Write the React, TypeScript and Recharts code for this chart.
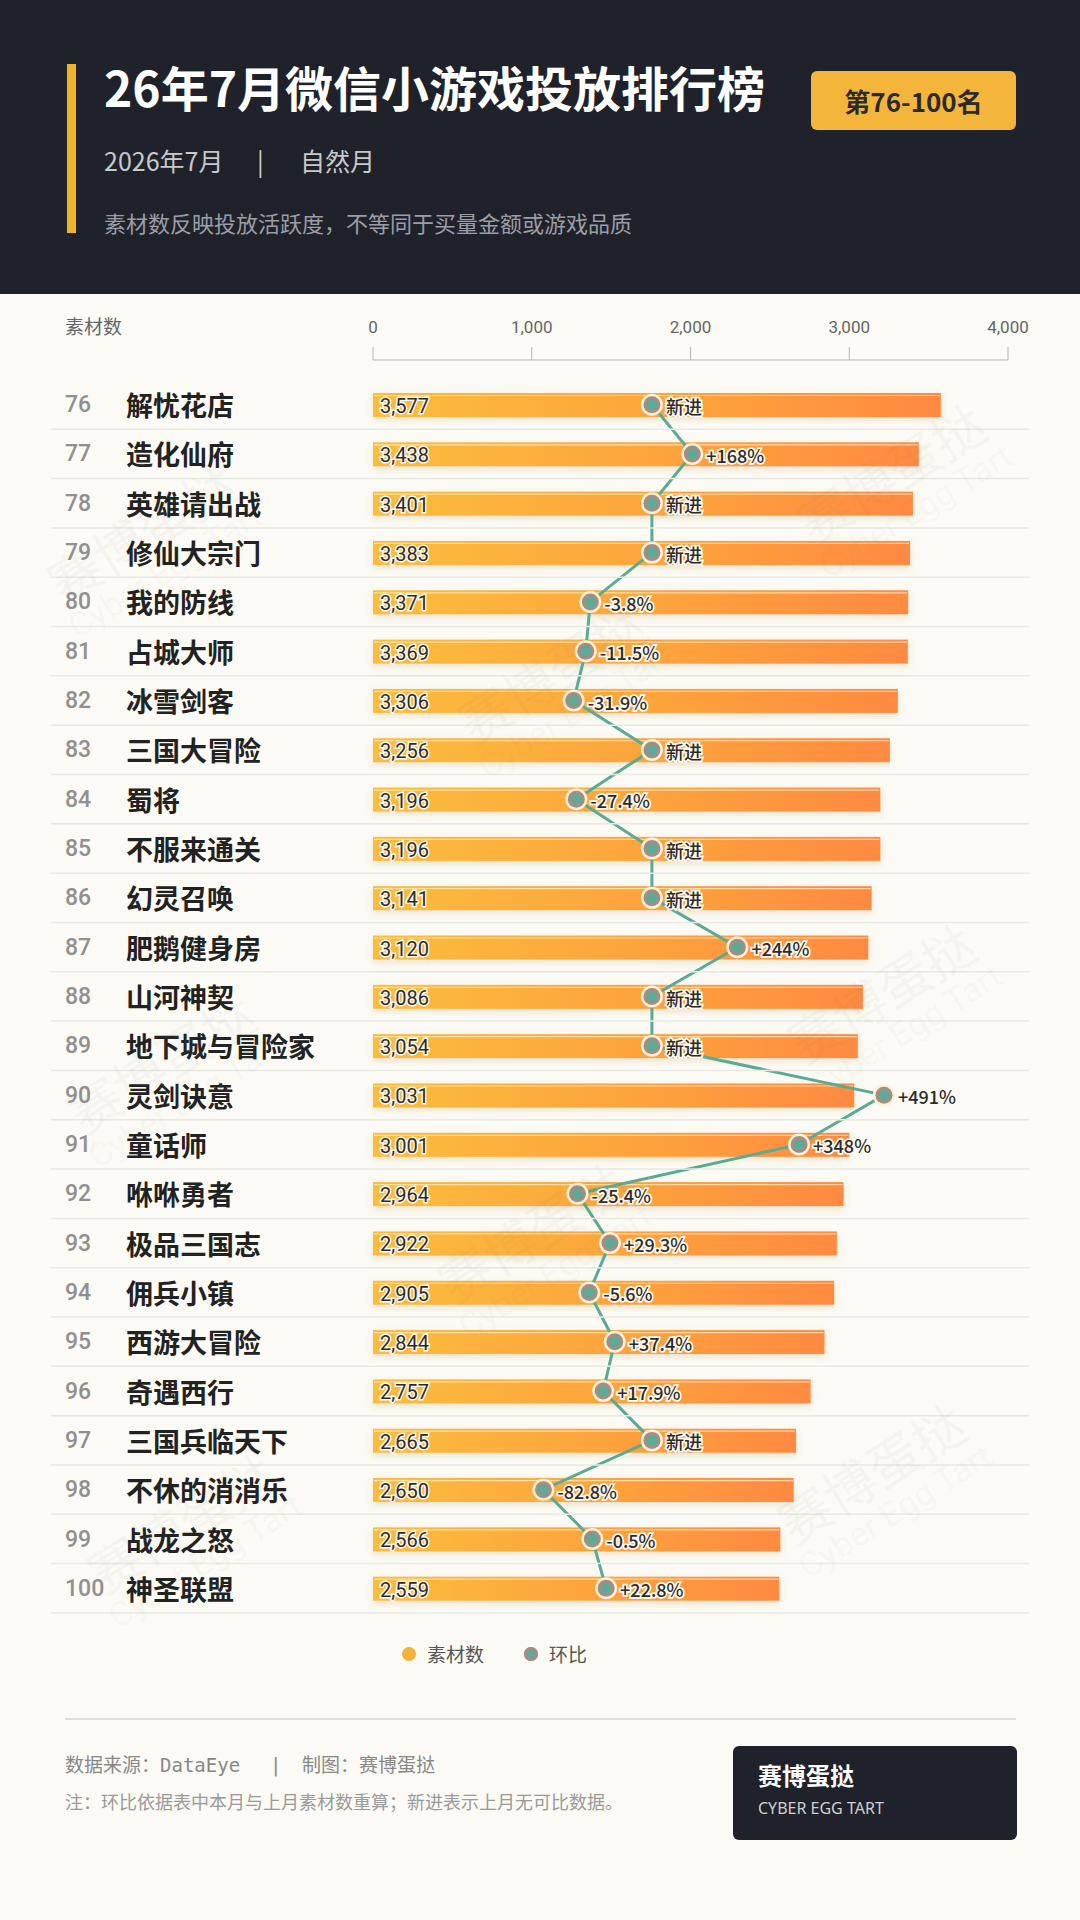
import React from 'react';
import { ComposedChart, Bar, Line, XAxis, YAxis, LabelList } from 'recharts';

const ranks = [76, 77, 78, 79, 80, 81, 82, 83, 84, 85, 86, 87, 88, 89, 90, 91, 92, 93, 94, 95, 96, 97, 98, 99, 100];
const names = [
  '解忧花店', '造化仙府', '英雄请出战', '修仙大宗门', '我的防线', '占城大师', '冰雪剑客', '三国大冒险',
  '蜀将', '不服来通关', '幻灵召唤', '肥鹅健身房', '山河神契', '地下城与冒险家', '灵剑诀意', '童话师',
  '咻咻勇者', '极品三国志', '佣兵小镇', '西游大冒险', '奇遇西行', '三国兵临天下', '不休的消消乐', '战龙之怒', '神圣联盟',
];
const counts = [
  3577, 3438, 3401, 3383, 3371, 3369, 3306, 3256, 3196, 3196, 3141, 3120, 3086,
  3054, 3031, 3001, 2964, 2922, 2905, 2844, 2757, 2665, 2650, 2566, 2559,
];
// 环比 (%), null = 新进
const changes: (number | null)[] = [
  null, 168, null, null, -3.8, -11.5, -31.9, null, -27.4, null, null, 244, null,
  null, 491, 348, -25.4, 29.3, -5.6, 37.4, 17.9, null, -82.8, -0.5, 22.8,
];
const countTicks = [0, 1000, 2000, 3000, 4000];
const NEW_POS = 100; // 新进 drawn at the +100% position

const data = names.map((name, i) => ({
  name,
  rank: ranks[i],
  count: counts[i],
  pos: changes[i] === null ? NEW_POS : changes[i],
  tag:
    changes[i] === null
      ? '新进'
      : `${(changes[i] as number) > 0 ? '+' : ''}${Math.abs(changes[i] as number) >= 100 ? (changes[i] as number).toFixed(0) : (changes[i] as number).toFixed(1)}%`,
}));

const FONT = "'Noto Sans CJK SC', 'Noto Sans', sans-serif";
const NUM_FONT = "Roboto, 'Noto Sans CJK SC', sans-serif";
const DARK = '#1f222a';

const RowTick = ({ x, y, payload, index }: any) => {
  const row = data[index] || data.find((d) => d.name === payload.value);
  return (
    <g>
      <line x1={51} x2={1029} y1={y + 24.6} y2={y + 24.6} stroke="#e9e9e4" strokeWidth={1.5} />
      <text x={65} y={y} dominantBaseline="central" fill="#909090" fontSize={23} fontFamily={NUM_FONT} fontWeight={500}>
        {row ? row.rank : ''}
      </text>
      <text x={126} y={y} dominantBaseline="central" fill="#222" fontSize={27} fontFamily={FONT} fontWeight={700}>
        {payload.value}
      </text>
    </g>
  );
};

const BarShape = ({ x, y, width, height }: any) => {
  if (!width || width <= 0) return null;
  return (
    <g>
      <rect x={x} y={y} width={width} height={height} fill="url(#barGrad)" filter="url(#barShadow)" />
      <line x1={x + 1} x2={x + width - 1} y1={y + 2.5} y2={y + 2.5} stroke="#fff3d0" strokeOpacity={0.7} strokeWidth={1.2} />
    </g>
  );
};

const ValueLabel = ({ x, y, height, value }: any) => (
  <text
    x={x + 7}
    y={y + height / 2 + 1}
    dominantBaseline="central"
    fill="#2b2b2b"
    stroke="#fffaf0"
    strokeWidth={3}
    paintOrder="stroke"
    fontSize={20}
    fontFamily={NUM_FONT}
  >
    {Number(value).toLocaleString('en-US')}
  </text>
);

const ChangeDot = ({ cx, cy, index }: any) => {
  if (cx == null || cy == null) return null;
  return (
    <g key={`dot-${index}`}>
      <circle cx={cx} cy={cy} r={11} fill="#fdf1d6" />
      <circle cx={cx} cy={cy} r={8.5} fill="#a98b84" />
      <circle cx={cx} cy={cy} r={5.5} fill="#5dab97" />
      <text
        x={cx + 14}
        y={cy + 1}
        dominantBaseline="central"
        fill="#2b2b2b"
        stroke="#fffaf0"
        strokeWidth={3.5}
        paintOrder="stroke"
        fontSize={18}
        fontFamily={FONT}
        fontWeight={500}
      >
        {data[index].tag}
      </text>
    </g>
  );
};

const watermarks = [
  [40, 500], [790, 440], [450, 640], [780, 960], [60, 1030], [430, 1200], [770, 1440], [80, 1490],
];

export default function App() {
  return (
    <div style={{ position: 'absolute', left: 0, top: 0, width: 1080, height: 1920, background: '#fbfaf4', overflow: 'hidden', fontFamily: FONT }}>
      {/* header */}
      <div style={{ position: 'absolute', left: 0, top: 0, width: 1080, height: 294, background: DARK }}>
        <div style={{ position: 'absolute', left: 67, top: 64, width: 9, height: 169, background: '#f0b429' }} />
        <div style={{ position: 'absolute', left: 104, top: 55, color: '#fff', fontSize: 48, fontWeight: 700, lineHeight: '62px', whiteSpace: 'nowrap' }}>
          26年7月微信小游戏投放排行榜
        </div>
        <div style={{ position: 'absolute', left: 811, top: 71, width: 205, height: 59, background: '#f3b63b', borderRadius: 6, display: 'flex', alignItems: 'center', justifyContent: 'center', color: '#2a2a2a', fontSize: 26, fontWeight: 700 }}>
          第76-100名
        </div>
        <div style={{ position: 'absolute', left: 104, top: 143, color: '#c9c9c9', fontSize: 25, lineHeight: '34px', whiteSpace: 'nowrap' }}>
          2026年7月
          <span style={{ position: 'absolute', left: 153 }}>|</span>
          <span style={{ position: 'absolute', left: 196, whiteSpace: 'nowrap' }}>自然月</span>
        </div>
        <div style={{ position: 'absolute', left: 104, top: 207, color: '#9c9ea5', fontSize: 22, lineHeight: '30px', whiteSpace: 'nowrap' }}>
          素材数反映投放活跃度，不等同于买量金额或游戏品质
        </div>
      </div>

      <div style={{ position: 'absolute', left: 65, top: 312, color: '#666', fontSize: 19, lineHeight: '28px' }}>素材数</div>

      <div style={{ position: 'absolute', left: 0, top: 0 }}>
        <ComposedChart
          width={1080}
          height={1640}
          data={data}
          layout="vertical"
          margin={{ top: 320, right: 72, bottom: 27, left: 50 }}
        >
          <defs>
            <linearGradient id="barGrad" x1="0" y1="0" x2="1" y2="0">
              <stop offset="0%" stopColor="#fbbd3d" />
              <stop offset="55%" stopColor="#fda33c" />
              <stop offset="100%" stopColor="#ff8a42" />
            </linearGradient>
            <filter id="barShadow" x="-5%" y="-50%" width="110%" height="220%">
              <feDropShadow dx="0" dy="3" stdDeviation="3" floodColor="#b07a30" floodOpacity="0.18" />
            </filter>
          </defs>
          <XAxis
            xAxisId="cnt"
            type="number"
            orientation="top"
            domain={[0, 4000]}
            ticks={countTicks}
            tickFormatter={(v: number) => v.toLocaleString('en-US')}
            axisLine={{ stroke: '#b5b5b5' }}
            tickLine={{ stroke: '#b5b5b5' }}
            tickSize={13}
            tickMargin={14}
            height={40}
            tick={{ fill: '#666', fontSize: 17, fontFamily: NUM_FONT }}
            interval={0}
          />
          <XAxis xAxisId="pct" type="number" domain={[-370, 700]} hide allowDataOverflow />
          <YAxis
            type="category"
            dataKey="name"
            width={323}
            axisLine={false}
            tickLine={false}
            padding={{ top: 20, bottom: 0 }}
            tick={<RowTick />}
            interval={0}
          />
          <Bar xAxisId="cnt" dataKey="count" barSize={24} shape={<BarShape />} isAnimationActive={false}>
            <LabelList dataKey="count" content={<ValueLabel />} />
          </Bar>
          <Line
            xAxisId="pct"
            dataKey="pos"
            type="linear"
            stroke="#5aaa95"
            strokeWidth={3}
            dot={<ChangeDot />}
            activeDot={false}
            isAnimationActive={false}
          />
        </ComposedChart>
      </div>

      {/* watermarks */}
      {watermarks.map(([x, y], i) => (
        <div
          key={i}
          style={{ position: 'absolute', left: x, top: y, transform: 'rotate(-32deg)', color: 'rgba(120,120,120,0.05)', pointerEvents: 'none', textAlign: 'center', lineHeight: 1.1 }}
        >
          <div style={{ fontSize: 52, fontWeight: 400 }}>赛博蛋挞</div>
          <div style={{ fontSize: 34, fontFamily: 'Roboto, sans-serif' }}>Cyber Egg Tart</div>
        </div>
      ))}

      {/* legend */}
      <div style={{ position: 'absolute', left: 402, top: 1640, display: 'flex', alignItems: 'center', color: '#555', fontSize: 19, lineHeight: '28px' }}>
        <span style={{ width: 14, height: 14, borderRadius: 7, background: '#f2b437', marginRight: 11 }} />
        <span style={{ marginRight: 40 }}>素材数</span>
        <span style={{ width: 14, height: 14, borderRadius: 7, background: '#5dab97', boxShadow: 'inset 0 0 0 3px #a98b84', marginRight: 11 }} />
        <span>环比</span>
      </div>

      {/* footer */}
      <div style={{ position: 'absolute', left: 65, top: 1718, width: 951, height: 2, background: '#dedede' }} />
      <div style={{ position: 'absolute', left: 65, top: 1751, color: '#888', fontSize: 19, lineHeight: '28px', whiteSpace: 'nowrap', fontFamily: "'DejaVu Sans Mono', 'Noto Sans CJK SC', monospace" }}>
        数据来源：DataEye
        <span style={{ position: 'absolute', left: 205 }}>|</span>
        <span style={{ position: 'absolute', left: 237, whiteSpace: 'nowrap' }}>制图：赛博蛋挞</span>
      </div>
      <div style={{ position: 'absolute', left: 65, top: 1788, color: '#9a9a9a', fontSize: 18, lineHeight: '26px', whiteSpace: 'nowrap' }}>
        注：环比依据表中本月与上月素材数重算；新进表示上月无可比数据。
      </div>
      <div style={{ position: 'absolute', left: 733, top: 1746, width: 284, height: 94, background: DARK, borderRadius: 6 }}>
        <div style={{ position: 'absolute', left: 25, top: 12, color: '#fff', fontSize: 24, fontWeight: 700, lineHeight: '34px' }}>赛博蛋挞</div>
        <div style={{ position: 'absolute', left: 25, top: 51, color: '#d0d0d0', fontSize: 16, lineHeight: '22px', fontFamily: "'Noto Sans', sans-serif" }}>CYBER EGG TART</div>
      </div>
    </div>
  );
}
